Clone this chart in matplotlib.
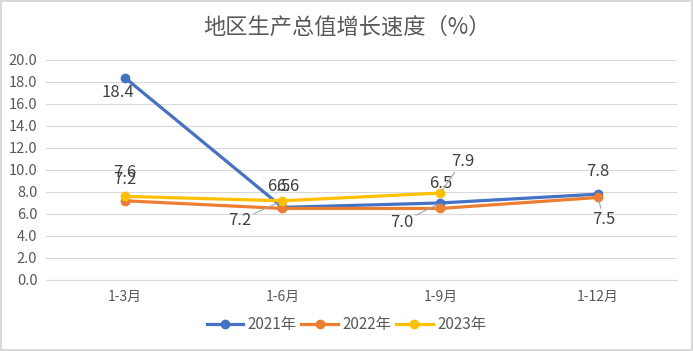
import matplotlib.pyplot as plt
from matplotlib.lines import Line2D
import numpy as np

plt.rcParams['font.family'] = ['Noto Sans CJK SC', 'DejaVu Sans']

categories = ['1-3月', '1-6月', '1-9月', '1-12月']
series_names = ['2021年', '2022年', '2023年']
v2021 = [18.4, 6.6, 7.0, 7.8]
v2022 = [7.2, 6.5, 6.5, 7.5]
v2023 = [7.6, 7.2, 7.9]
colors = ['#4472C4', '#ED7D31', '#FFC000']
yticks = np.arange(0, 20.1, 2.0)

fig = plt.figure(figsize=(6.93, 3.51), dpi=100, edgecolor='#D9D9D9', linewidth=1.5)
ax = fig.add_axes([0.066, 0.2023, 0.911, 0.627])

x = np.arange(len(categories))
for vals, c in zip([v2021, v2022, v2023], colors):
    ax.plot(x[:len(vals)], vals, color=c, lw=2.3, marker='o', ms=6, zorder=3)

ax.set_xlim(-0.5, 3.5)
ax.set_ylim(0, 20)
ax.set_yticks(yticks)
ax.set_yticklabels([f'{t:.1f}' for t in yticks], fontsize=10.5, color='#595959')
ax.set_xticks(x)
ax.set_xticklabels(categories, fontsize=10, color='#595959')
ax.tick_params(length=0, pad=6)
ax.tick_params(axis='x', pad=7)
ax.grid(axis='y', color='#D9D9D9', lw=0.8)
ax.set_axisbelow(True)
for s in ['left', 'right', 'top']:
    ax.spines[s].set_visible(False)
ax.spines['bottom'].set_color('#D9D9D9')

fig.text(0.5, 0.923, '地区生产总值增长速度（%）', ha='center', va='center',
         fontsize=16, color='#595959')

lab = dict(fontsize=12, color='#404040', ha='center', va='center')
lead = dict(arrowstyle='-', color='#A6A6A6', lw=0.8, shrinkA=0, shrinkB=2)

def label(xi, yv, txt, dx, dy, leader=False):
    kw = dict(textcoords='offset points', xytext=(dx, dy), **lab)
    if leader:
        kw['arrowprops'] = lead
    ax.annotate(txt, (xi, yv), **kw)

# 2021
label(0, v2021[0], '18.4', -5, -11)
label(1, v2021[1], '6.6', 4, 15)
label(2, v2021[2], '7.0', -28, -14, True)
label(3, v2021[3], '7.8', 0, 16)
# 2022
label(0, v2022[0], '7.2', 0, 15)
label(1, v2022[1], '6.5', -3, 16)
label(2, v2022[2], '6.5', 0, 18)
label(3, v2022[3], '7.5', 4, -16, True)
# 2023
label(0, v2023[0], '7.6', 0, 17)
label(1, v2023[1], '7.2', -31, -14, True)
label(2, v2023[2], '7.9', 16, 23, True)

handles = [Line2D([], [], color=c, lw=2.3, marker='o', ms=6) for c in colors]
fig.legend(handles, series_names, loc='center', bbox_to_anchor=(0.5, 0.075), ncol=3,
           frameon=False, fontsize=11, labelcolor='#595959', handlelength=2.4,
           handletextpad=0.3, columnspacing=0.3)

fig.savefig('out.png', dpi=100)
